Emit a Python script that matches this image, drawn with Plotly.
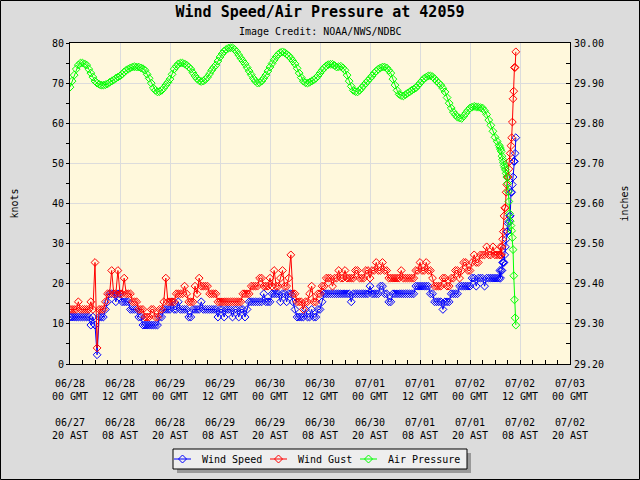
import pandas as pd
import plotly.graph_objects as go

# ---------------- data ----------------
# half-hourly readings 06/28 00:00 .. 07/02 06:30 GMT (206 values)
speed_halfhour = [
    11.7, 11.7, 11.7, 11.7, 11.7, 11.7, 11.7, 11.7, 11.7, 11.7,
    9.7, 11.7, 9.7, 2.3, 11.7, 11.7, 11.7, 13.6, 15.5, 17.5,
    17.5, 17.5, 15.5, 17.5, 17.5, 15.5, 15.5, 15.5, 15.5, 13.6,
    13.6, 13.6, 13.6, 11.7, 11.7, 9.7, 9.7, 9.7, 9.7, 9.7,
    9.7, 9.7, 9.7, 11.7, 11.7, 13.6, 13.6, 13.6, 13.6, 15.5,
    13.6, 13.6, 15.5, 13.6, 13.6, 13.6, 13.6, 11.7, 11.7, 13.6,
    13.6, 13.6, 13.6, 15.5, 13.6, 13.6, 13.6, 13.6, 13.6, 13.6,
    13.6, 11.7, 13.6, 13.6, 11.7, 13.6, 13.6, 13.6, 11.7, 13.6,
    13.6, 11.7, 13.6, 13.6, 11.7, 13.6, 15.5, 15.5, 15.5, 15.5,
    15.5, 15.5, 15.5, 17.5, 15.5, 15.5, 15.5, 17.5, 17.5, 17.5,
    17.5, 15.5, 17.5, 17.5, 15.5, 17.5, 17.5, 15.5, 13.6, 11.7,
    11.7, 11.7, 11.7, 13.6, 11.7, 11.7, 13.6, 11.7, 11.7, 13.6,
    13.6, 15.5, 17.5, 17.5, 17.5, 17.5, 17.5, 17.5, 17.5, 17.5,
    17.5, 17.5, 17.5, 17.5, 17.5, 15.5, 17.5, 17.5, 17.5, 17.5,
    17.5, 17.5, 17.5, 17.5, 19.4, 17.5, 17.5, 17.5, 17.5, 19.4,
    19.4, 17.5, 17.5, 15.5, 15.5, 17.5, 17.5, 17.5, 17.5, 17.5,
    17.5, 17.5, 17.5, 17.5, 17.5, 17.5, 19.4, 19.4, 19.4, 19.4,
    19.4, 19.4, 19.4, 17.5, 17.5, 15.5, 15.5, 15.5, 15.5, 13.6,
    15.5, 15.5, 15.5, 17.5, 17.5, 17.5, 17.5, 19.4, 19.4, 19.4,
    19.4, 19.4, 19.4, 21.4, 21.4, 19.4, 21.4, 21.4, 21.4, 19.4,
    21.4, 21.4, 21.4, 21.4, 21.4, 21.4]
gust_halfhour = [
    13.6, 13.6, 13.6, 13.6, 15.5, 13.6, 13.6, 13.6, 13.6, 13.6,
    15.5, 13.6, 25.3, 4.0, 13.6, 13.6, 13.6, 15.5, 17.5, 17.5,
    23.3, 17.5, 17.5, 23.3, 17.5, 17.5, 21.4, 17.5, 17.5, 17.5,
    15.5, 15.5, 15.5, 13.6, 13.6, 13.6, 11.7, 11.7, 11.7, 13.6,
    13.6, 11.7, 11.7, 13.6, 13.6, 15.5, 21.4, 15.5, 15.5, 15.5,
    15.5, 17.5, 17.5, 17.5, 17.5, 19.4, 17.5, 15.5, 15.5, 15.5,
    19.4, 17.5, 21.4, 19.4, 19.4, 19.4, 19.4, 17.5, 17.5, 17.5,
    17.5, 15.5, 15.5, 15.5, 15.5, 15.5, 15.5, 15.5, 15.5, 15.5,
    15.5, 15.5, 15.5, 17.5, 17.5, 17.5, 17.5, 19.4, 19.4, 19.4,
    19.4, 21.4, 21.4, 19.4, 19.4, 19.4, 21.4, 19.4, 23.3, 19.4,
    19.4, 21.4, 23.3, 19.4, 19.4, 21.4, 27.2, 17.5, 17.5, 15.5,
    15.5, 15.5, 13.6, 15.5, 15.5, 17.5, 19.4, 15.5, 15.5, 17.5,
    17.5, 19.4, 19.4, 21.4, 21.4, 21.4, 19.4, 21.4, 21.4, 23.3,
    21.4, 21.4, 23.3, 21.4, 21.4, 21.4, 21.4, 23.3, 23.3, 21.4,
    21.4, 21.4, 23.3, 23.3, 21.4, 23.3, 23.3, 25.3, 23.3, 23.3,
    25.3, 23.3, 23.3, 21.4, 21.4, 21.4, 21.4, 21.4, 21.4, 23.3,
    21.4, 21.4, 21.4, 21.4, 21.4, 21.4, 23.3, 23.3, 25.3, 23.3,
    23.3, 25.3, 23.3, 23.3, 21.4, 19.4, 19.4, 19.4, 19.4, 21.4,
    21.4, 19.4, 19.4, 21.4, 21.4, 23.3, 23.3, 21.4, 23.3, 25.3,
    25.3, 23.3, 23.3, 25.3, 27.2, 25.3, 25.3, 27.2, 27.2, 27.2,
    29.2, 27.2, 27.2, 29.2, 27.2, 27.2]
pressure_halfhour = [
    29.890, 29.905, 29.920, 29.935, 29.945, 29.950, 29.950, 29.948, 29.945, 29.935,
    29.925, 29.915, 29.905, 29.900, 29.897, 29.895, 29.895, 29.896, 29.898, 29.902,
    29.905, 29.908, 29.912, 29.915, 29.918, 29.922, 29.928, 29.932, 29.935, 29.938,
    29.940, 29.941, 29.940, 29.940, 29.938, 29.936, 29.932, 29.922, 29.912, 29.900,
    29.888, 29.882, 29.878, 29.879, 29.882, 29.888, 29.895, 29.902, 29.910, 29.922,
    29.935, 29.942, 29.948, 29.950, 29.950, 29.948, 29.945, 29.940, 29.935, 29.926,
    29.918, 29.911, 29.906, 29.904, 29.905, 29.909, 29.915, 29.923, 29.932, 29.939,
    29.945, 29.955, 29.965, 29.973, 29.980, 29.984, 29.987, 29.988, 29.988, 29.984,
    29.978, 29.970, 29.962, 29.955, 29.948, 29.939, 29.930, 29.921, 29.912, 29.905,
    29.900, 29.901, 29.905, 29.912, 29.920, 29.930, 29.940, 29.949, 29.958, 29.966,
    29.972, 29.976, 29.978, 29.976, 29.972, 29.968, 29.962, 29.955, 29.948, 29.937,
    29.925, 29.914, 29.905, 29.901, 29.900, 29.902, 29.905, 29.908, 29.912, 29.918,
    29.925, 29.932, 29.938, 29.943, 29.946, 29.947, 29.947, 29.944, 29.940, 29.941,
    29.942, 29.938, 29.932, 29.920, 29.905, 29.892, 29.882, 29.879, 29.878, 29.882,
    29.888, 29.894, 29.900, 29.906, 29.912, 29.918, 29.925, 29.930, 29.935, 29.938,
    29.940, 29.940, 29.938, 29.932, 29.925, 29.910, 29.895, 29.882, 29.872, 29.869,
    29.868, 29.871, 29.875, 29.878, 29.882, 29.885, 29.888, 29.894, 29.900, 29.906,
    29.912, 29.915, 29.918, 29.918, 29.916, 29.911, 29.905, 29.900, 29.895, 29.887,
    29.878, 29.864, 29.850, 29.838, 29.828, 29.821, 29.815, 29.813, 29.812, 29.818,
    29.825, 29.832, 29.838, 29.840, 29.842, 29.841, 29.840, 29.839, 29.838, 29.831,
    29.822, 29.808, 29.795, 29.780, 29.765, 29.755]
# 10-minute readings 07/02 07:00 .. 11:00 GMT (25 values)
speed_10min = [21.4, 23.3, 21.4, 23.3, 23.3, 25.3, 25.3, 25.3, 27.2, 29.2,
               31.1, 33.0, 33.0, 35.0, 35.5, 36.9, 36.9, 42.8, 42.8, 44.7,
               46.6, 50.5, 50.5, 52.5, 56.4]
gust_10min = [27.2, 27.2, 29.2, 27.2, 29.2, 31.1, 33.0, 36.9, 38.9, 38.9,
              42.8, 44.7, 46.6, 46.6, 48.6, 50.5, 52.5, 54.4, 56.4, 60.3,
              66.1, 68.0, 73.9, 73.9, 77.8]
pressure_10min = [29.745, 29.740, 29.735, 29.730, 29.718, 29.710, 29.703, 29.695, 29.690, 29.684,
                  29.675, 29.666, 29.650, 29.630, 29.605, 29.575, 29.556, 29.545, 29.532, 29.515,
                  29.485, 29.420, 29.360, 29.315, 29.297]

series_names = ["Wind Speed", "Wind Gust", "Air Pressure"]
series_colors = ["#0000ff", "#ff0000", "#00ff00"]

gmt_dates = ["06/28", "06/28", "06/29", "06/29", "06/30", "06/30",
             "07/01", "07/01", "07/02", "07/02", "07/03"]
gmt_hours = ["00 GMT", "12 GMT"] * 5 + ["00 GMT"]
ast_dates = ["06/27", "06/28", "06/28", "06/29", "06/29", "06/30",
             "06/30", "07/01", "07/01", "07/02", "07/02"]
ast_hours = ["20 AST", "08 AST"] * 5 + ["20 AST"]

times = list(pd.date_range("2024-06-28 00:00", periods=len(speed_halfhour), freq="30min")) + \
        list(pd.date_range("2024-07-02 07:00", periods=len(speed_10min), freq="10min"))
speed = speed_halfhour + speed_10min
gust = gust_halfhour + gust_10min
pressure = pressure_halfhour + pressure_10min

tickvals = list(pd.date_range("2024-06-28 00:00", "2024-07-03 00:00", freq="12h"))
minorvals = list(pd.date_range("2024-06-28 00:00", "2024-07-03 00:00", freq="3h"))
ticktext = [f"{a}<br>{b}<br><br>{c}<br>{d}" for a, b, c, d in
            zip(gmt_dates, gmt_hours, ast_dates, ast_hours)]

FONT = "DejaVu Sans Mono"

# plot-area geometry in pixels (for converting layout positions to paper units)
L, R, T, B = 70, 570, 43, 364


def px(xp):
    return (xp - L) / (R - L)


def py(yp):
    return (B - yp) / (B - T)


fig = go.Figure()
for name, vals, color, axis in zip(series_names, [speed, gust, pressure],
                                   series_colors, ["y", "y", "y2"]):
    fig.add_trace(go.Scatter(
        x=times, y=vals, name=name, yaxis=axis, mode="lines+markers",
        line=dict(color=color, width=1),
        marker=dict(symbol="diamond-open", size=6, color=color, line=dict(width=1, color=color)),
        showlegend=False,
    ))

# ---- legend box drawn like the original (with drop shadow) ----
shapes = [
    dict(type="rect", xref="paper", yref="paper",
         x0=px(177), x1=px(471), y0=py(473), y1=py(453),
         fillcolor="#999999", line=dict(width=0), layer="above"),
    dict(type="rect", xref="paper", yref="paper",
         x0=px(173), x1=px(467), y0=py(469), y1=py(449),
         fillcolor="#eeeeee", line=dict(color="black", width=1), layer="above"),
    dict(type="rect", xref="paper", yref="paper",
         x0=px(0.5), x1=px(639.5), y0=py(479.5), y1=py(0.5),
         line=dict(color="black", width=1), layer="below"),
]
annotations = [
    dict(text="Image Credit: NOAA/NWS/NDBC", xref="paper", yref="paper",
         x=0.5, y=py(31), xanchor="center", yanchor="middle",
         showarrow=False, font=dict(family=FONT, size=10)),
    dict(text="knots", xref="paper", yref="paper", x=px(14), y=0.5,
         textangle=-90, showarrow=False, xanchor="center", yanchor="middle"),
    dict(text="inches", xref="paper", yref="paper", x=px(624), y=0.5,
         textangle=-90, showarrow=False, xanchor="center", yanchor="middle"),
]
legend_x = [174, 270, 360]
cy = 459
for x0, name, color in zip(legend_x, series_names, series_colors):
    shapes.append(dict(type="line", xref="paper", yref="paper",
                       x0=px(x0), x1=px(x0 + 17), y0=py(cy), y1=py(cy),
                       line=dict(color=color, width=1), layer="above"))
    cx = x0 + 8.5
    shapes.append(dict(type="path", xref="paper", yref="paper",
                       path=f"M {px(cx-4)},{py(cy)} L {px(cx)},{py(cy-4)} "
                            f"L {px(cx+4)},{py(cy)} L {px(cx)},{py(cy+4)} Z",
                       line=dict(color=color, width=1), layer="above"))
    annotations.append(dict(text=name, xref="paper", yref="paper",
                            x=px(x0 + 26), y=py(cy), xanchor="left", yanchor="middle",
                            showarrow=False, font=dict(family=FONT, size=10)))

fig.update_layout(
    width=640, height=480,
    margin=dict(l=L, r=640 - R, t=T, b=480 - B, autoexpand=False),
    paper_bgcolor="#dcdcdc",
    plot_bgcolor="#fff8dc",
    font=dict(family=FONT, size=10, color="black"),
    showlegend=False,
    title=dict(text="<b>Wind Speed/Air Pressure at 42059</b>", x=0.5, xanchor="center",
               y=1 - 12 / 480, yanchor="middle", font=dict(family=FONT, size=15, color="black")),
    xaxis=dict(type="date", range=[tickvals[0], tickvals[-1]],
               tickmode="array", tickvals=tickvals, ticktext=ticktext,
               ticks="inside", ticklen=4, tickcolor="black", ticklabelstandoff=10,
               minor=dict(tickmode="array", tickvals=minorvals, ticks="inside", ticklen=4,
                          tickcolor="black", showgrid=False),
               showgrid=True, gridcolor="#dcdcdc", gridwidth=1,
               showline=True, linecolor="black", linewidth=1, mirror=True,
               zeroline=False, tickangle=0, automargin=False),
    yaxis=dict(range=[0, 80], tickmode="linear", tick0=0, dtick=10,
               ticks="outside", ticklen=3, tickcolor="black",
               minor=dict(dtick=5, ticks="outside", ticklen=3, tickcolor="black", showgrid=False),
               showgrid=True, gridcolor="#dcdcdc", gridwidth=1,
               showline=True, linecolor="black", linewidth=1, mirror=True, zeroline=False,
               automargin=False),
    yaxis2=dict(range=[29.2, 30.0], overlaying="y", side="right",
                tickmode="linear", tick0=29.2, dtick=0.1, tickformat=".2f",
                ticks="inside", ticklen=4, tickcolor="black", ticklabelstandoff=3,
                minor=dict(dtick=0.05, ticks="inside", ticklen=4, tickcolor="black", showgrid=False),
                showgrid=False, zeroline=False, showline=False, automargin=False),
    shapes=shapes,
    annotations=annotations,
)

fig.write_html("out.html")
